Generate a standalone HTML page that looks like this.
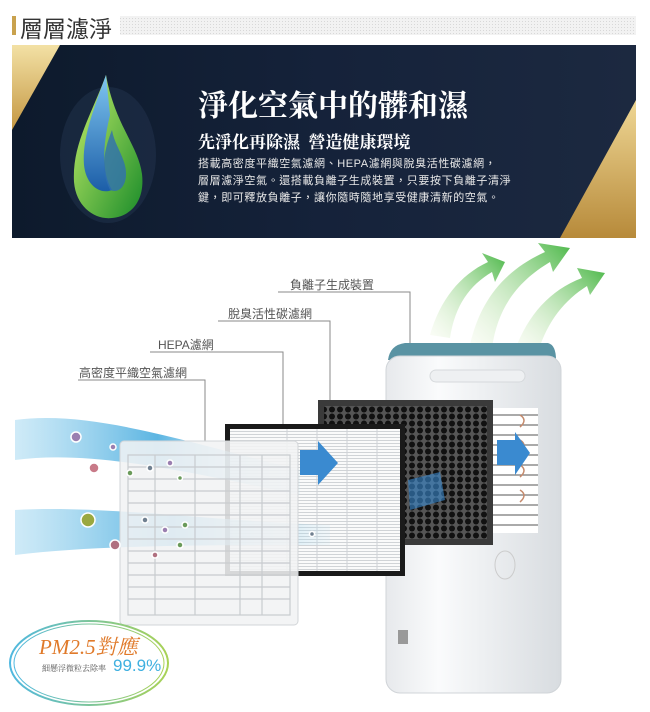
<!DOCTYPE html>
<html><head><meta charset="utf-8"><style>
html,body{margin:0;padding:0;background:#fff;}
body{width:650px;height:712px;position:relative;overflow:hidden;font-family:"Liberation Sans","Noto Sans CJK TC",sans-serif;}
.t{position:absolute;white-space:nowrap;}
</style></head><body>
<svg width="650" height="712" style="position:absolute;left:0;top:0">
<defs>
<linearGradient id="bn" x1="0" y1="0" x2="1" y2="0"><stop offset="0" stop-color="#0d1a2c"/><stop offset="0.5" stop-color="#15223a"/><stop offset="1" stop-color="#1c2940"/></linearGradient>
<linearGradient id="gd" x1="0" y1="0" x2="0" y2="1"><stop offset="0" stop-color="#f3e1a5"/><stop offset="1" stop-color="#c49742"/></linearGradient>
<linearGradient id="gd2" x1="0" y1="0" x2="0" y2="1"><stop offset="0" stop-color="#efd795"/><stop offset="1" stop-color="#b78a3a"/></linearGradient>
<linearGradient id="dropB" x1="0" y1="0" x2="0" y2="1"><stop offset="0" stop-color="#7fc6f0"/><stop offset="1" stop-color="#1c5ea8"/></linearGradient>
<linearGradient id="dropG" x1="0" y1="0" x2="1" y2="1"><stop offset="0" stop-color="#c9f06a"/><stop offset="1" stop-color="#1a8c2a"/></linearGradient>
<linearGradient id="ga" x1="0" y1="1" x2="1" y2="0"><stop offset="0" stop-color="#e9f4d6" stop-opacity="0.2"/><stop offset="1" stop-color="#4db84a"/></linearGradient>
<linearGradient id="st" x1="0" y1="0" x2="1" y2="0"><stop offset="0" stop-color="#9fd6f0" stop-opacity="0.5"/><stop offset="0.5" stop-color="#3fa8dd" stop-opacity="0.85"/><stop offset="1" stop-color="#bfe4f4" stop-opacity="0.15"/></linearGradient>
<linearGradient id="dv" x1="0" y1="0" x2="1" y2="0"><stop offset="0" stop-color="#e7e9ec"/><stop offset="0.3" stop-color="#fafbfc"/><stop offset="1" stop-color="#d8dce0"/></linearGradient>
<linearGradient id="el" x1="0" y1="0" x2="1" y2="0"><stop offset="0" stop-color="#4fb8e0"/><stop offset="1" stop-color="#a9d255"/></linearGradient>
<pattern id="hex" width="8" height="7" patternUnits="userSpaceOnUse"><rect width="8" height="7" fill="#555"/><circle cx="4" cy="3.5" r="3" fill="#111"/></pattern>
<pattern id="hepa" width="4" height="3" patternUnits="userSpaceOnUse"><rect width="4" height="3" fill="#fafafa"/><rect y="2" width="4" height="1" fill="#d0d3d6"/></pattern>
<pattern id="dots" width="3" height="3" patternUnits="userSpaceOnUse"><rect width="3" height="3" fill="#f2f2f2"/><rect width="1" height="1" fill="#d8d8d8"/></pattern>
</defs>
<rect x="12" y="16" width="4" height="19" fill="#c9a24e"/>
<rect x="120" y="16" width="516" height="19" fill="url(#dots)"/>
<rect x="12" y="45" width="624" height="193" fill="url(#bn)"/>
<polygon points="12,45 60,45 12,130" fill="url(#gd)"/>
<polygon points="636,100 636,238 560,238" fill="url(#gd2)"/>
<ellipse cx="108" cy="155" rx="48" ry="68" fill="#2a3f5c" opacity="0.35"/>
<path d="M106,75 C90,118 72,145 74,182 C76,207 95,220 112,218 C132,216 145,200 142,174 C138,145 115,125 106,75Z" fill="url(#dropG)"/>
<path d="M106,75 C92,113 82,140 84,165 C86,185 100,195 112,190 C100,170 104,140 110,115Z" fill="url(#dropB)"/>
<path d="M112,130 C104,150 100,170 110,190 C122,195 130,180 124,162 C120,150 114,142 112,130Z" fill="#2f6fb0" opacity="0.8"/>
<path d="M430,335 C440,300 460,275 488,262 L482,253 L505,262 L495,282 L492,272 C470,285 455,305 450,338Z" fill="url(#ga)"/>
<path d="M470,345 C480,300 505,270 545,252 L538,243 L570,248 L553,272 L550,262 C520,280 498,305 492,348Z" fill="url(#ga)"/>
<path d="M515,350 C528,315 550,290 582,278 L577,268 L605,273 L590,295 L587,286 C565,300 548,320 538,352Z" fill="url(#ga)"/>
<g stroke="#8a8a8a" stroke-width="1" fill="none">
<polyline points="278,292 410,292 410,346"/>
<polyline points="218,321 330,321 330,400"/>
<polyline points="150,352 283,352 283,425"/>
<polyline points="78,380 205,380 205,442"/>
</g>
<path d="M405,343 L548,343 Q556,345 556,360 L388,360 Q390,345 405,343Z" fill="#5a93a3"/>
<rect x="386" y="356" width="175" height="337" rx="14" fill="url(#dv)" stroke="#d0d4d8"/>
<rect x="430" y="370" width="95" height="12" rx="6" fill="#eef0f2" stroke="#d6d9dc"/>
<rect x="493" y="408" width="45" height="125" fill="#fff"/>
<g stroke="#777" stroke-width="1.2">
<line x1="493" y1="415" x2="538" y2="415"/><line x1="493" y1="425" x2="538" y2="425"/><line x1="493" y1="435" x2="538" y2="435"/><line x1="493" y1="445" x2="538" y2="445"/><line x1="493" y1="455" x2="538" y2="455"/><line x1="493" y1="465" x2="538" y2="465"/><line x1="493" y1="475" x2="538" y2="475"/><line x1="493" y1="485" x2="538" y2="485"/><line x1="493" y1="495" x2="538" y2="495"/><line x1="493" y1="505" x2="538" y2="505"/><line x1="493" y1="515" x2="538" y2="515"/><line x1="493" y1="525" x2="538" y2="525"/>
</g>
<g stroke="#c58a6c" stroke-width="1.5" fill="none"><path d="M520,415 q8,5 0,12 M520,440 q8,5 0,12 M520,465 q8,5 0,12 M520,490 q8,5 0,12"/></g>
<ellipse cx="505" cy="565" rx="10" ry="14" fill="none" stroke="#ccc"/>
<rect x="398" y="630" width="10" height="14" fill="#999"/>
<rect x="318" y="400" width="175" height="145" fill="#3a3a3a"/>
<rect x="324" y="406" width="163" height="133" fill="url(#hex)"/>
<polygon points="408,480 440,472 445,500 410,510" fill="#3a8ad0" opacity="0.6"/>
<polygon points="497,440 515,440 515,432 530,453 515,475 515,465 497,465" fill="#3a8ad0"/>
<rect x="225" y="424" width="180" height="152" fill="#1a1a1a"/>
<rect x="230" y="429" width="170" height="142" fill="url(#hepa)"/>
<g stroke="#cfd2d6"><line x1="287" y1="429" x2="287" y2="571"/><line x1="317" y1="429" x2="317" y2="571"/><line x1="347" y1="429" x2="347" y2="571"/><line x1="377" y1="429" x2="377" y2="571"/></g>
<path d="M15,420 C90,410 180,440 300,470 L300,495 C180,470 90,450 15,460Z" fill="url(#st)"/>
<path d="M15,510 C100,505 200,520 330,525 L330,545 C200,545 100,545 15,555Z" fill="url(#st)"/>
<rect x="120" y="441" width="178" height="184" rx="4" fill="#f1f2f4" fill-opacity="0.88" stroke="#d2d5d8"/>
<g fill="none" stroke="#c8cbcf" stroke-width="1.2">
<rect x="128" y="455" width="162" height="160"/>
<line x1="155" y1="455" x2="155" y2="615"/><line x1="195" y1="455" x2="195" y2="615"/><line x1="240" y1="455" x2="240" y2="615"/><line x1="262" y1="455" x2="262" y2="615"/>
<path d="M128,467H290M128,479H290M128,491H290M128,503H290M128,515H290M128,527H290M128,539H290M128,551H290M128,563H290M128,575H290M128,587H290M128,599H290"/>
</g>
<polygon points="300,450 318,450 318,441 338,463 318,485 318,475 300,475" fill="#3a8ad0"/>
<g fill="#9a7fb0" stroke="#fff" stroke-width="1.5">
<circle cx="76" cy="437" r="5"/><circle cx="113" cy="447" r="3"/><circle cx="94" cy="468" r="5" fill="#c87a88"/><circle cx="130" cy="473" r="3" fill="#6a9a5a"/><circle cx="150" cy="468" r="3" fill="#708090"/><circle cx="170" cy="463" r="3"/><circle cx="180" cy="478" r="2.5" fill="#6a9a5a"/>
<circle cx="88" cy="520" r="7" fill="#9aa840"/><circle cx="115" cy="545" r="5" fill="#b07080"/><circle cx="145" cy="520" r="3" fill="#708090"/><circle cx="165" cy="530" r="3"/><circle cx="185" cy="525" r="3" fill="#6a9a5a"/><circle cx="180" cy="545" r="3" fill="#6a9a5a"/><circle cx="155" cy="555" r="3" fill="#b07080"/><circle cx="312" cy="534" r="2.5" fill="#708090"/>
</g>
<ellipse cx="89" cy="663" rx="79" ry="42" fill="#fff" fill-opacity="0.85" stroke="url(#el)" stroke-width="2"/>
<ellipse cx="89" cy="663" rx="75" ry="39" fill="none" stroke="url(#el)" stroke-width="1"/>
</svg>
<div class="t" style="left:20px;top:10px;font-size:23px;color:#333">層層濾淨</div>
<div class="t" style="left:198px;top:81px;font-size:30px;font-weight:bold;color:#fff;font-family:'Liberation Serif','Noto Serif CJK SC',serif">淨化空氣中的髒和濕</div>
<div class="t" style="left:198px;top:128px;font-size:17px;font-weight:bold;color:#fff;font-family:'Liberation Serif','Noto Serif CJK SC',serif">先淨化再除濕&nbsp; 營造健康環境</div>
<div class="t" style="left:198px;top:156px;font-size:11px;line-height:17px;color:#e8e8e8;letter-spacing:0.6px">搭載高密度平織空氣濾網、HEPA濾網與脫臭活性碳濾網，<br>層層濾淨空氣。還搭載負離子生成裝置，只要按下負離子清淨<br>鍵，即可釋放負離子，讓你隨時隨地享受健康清新的空氣。</div>
<div class="t" style="left:290px;top:276px;font-size:12px;color:#555">負離子生成裝置</div>
<div class="t" style="left:228px;top:305px;font-size:12px;color:#555">脫臭活性碳濾網</div>
<div class="t" style="left:158px;top:336px;font-size:12px;color:#555">HEPA濾網</div>
<div class="t" style="left:79px;top:364px;font-size:12px;color:#555">高密度平織空氣濾網</div>
<div class="t" style="left:39px;top:631px;font-size:21px;font-style:italic;color:#e07a2a;font-family:'Liberation Serif','Noto Serif CJK SC',serif">PM2.5對應</div>
<div class="t" style="left:42px;top:663px;font-size:8px;color:#555;font-family:'Liberation Serif','Noto Serif CJK SC',serif">細懸浮微粒去除率</div>
<div class="t" style="left:113px;top:656px;font-size:17px;color:#3fb0e0">99.9%</div>
</body></html>
